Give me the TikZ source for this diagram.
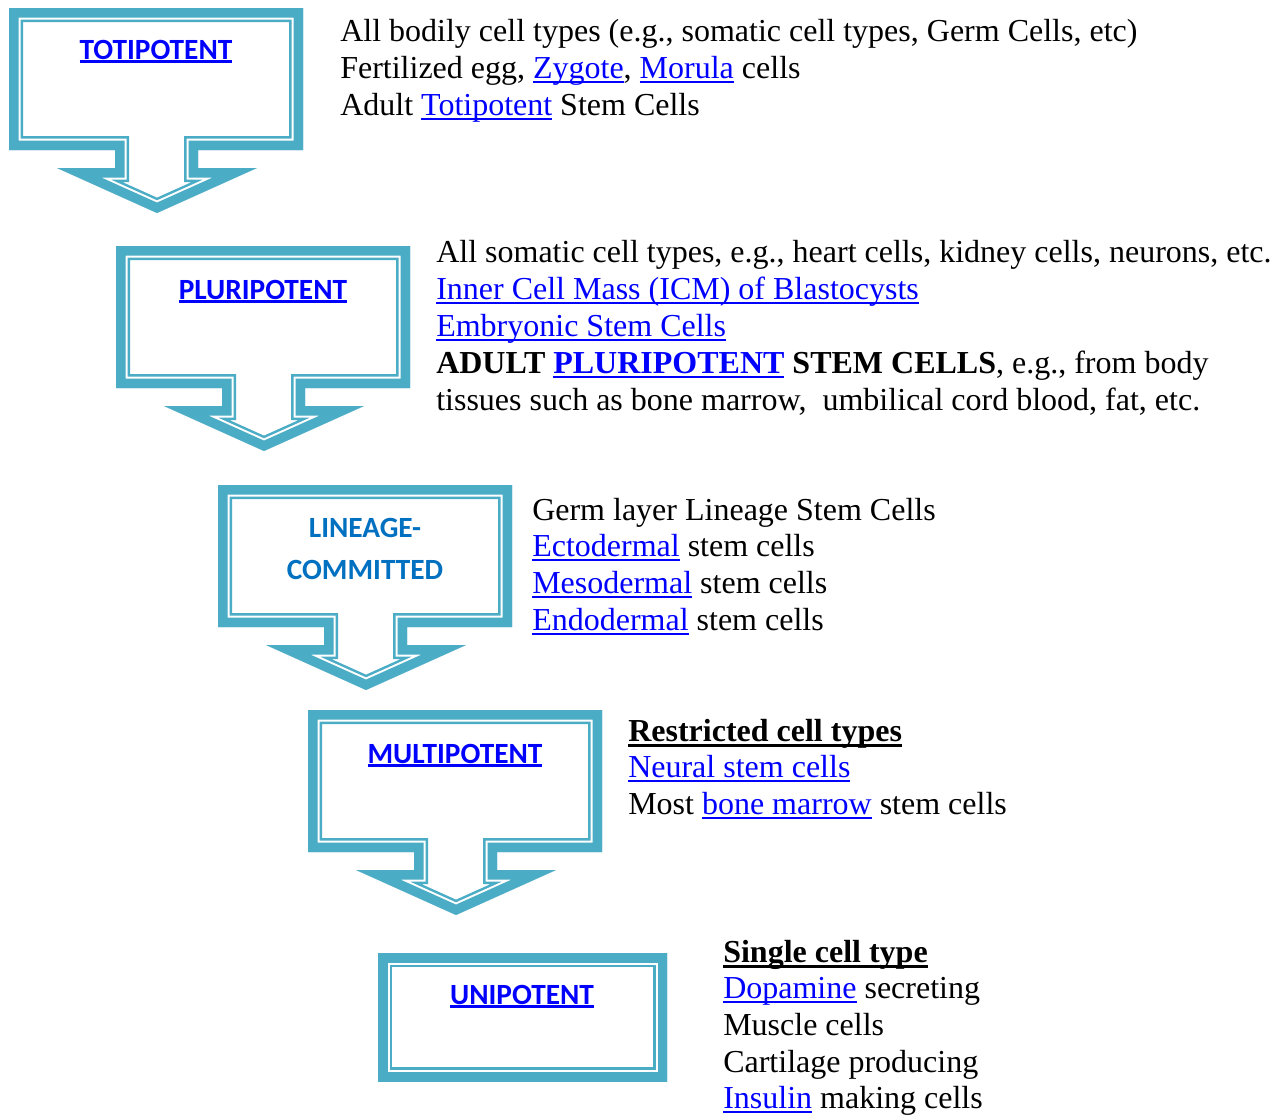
\documentclass[tikz,border=0pt]{standalone}
\usepackage{fontspec}
\setmainfont{Liberation Serif}
\newfontfamily\calfont{Carlito}
\definecolor{stemTeal}{HTML}{4BACC6}
\definecolor{linkBlue}{HTML}{0000FF}
\definecolor{lineBlue}{HTML}{0070C0}
\usepackage{tikz}
\usetikzlibrary{positioning}
\newsavebox{\ulbox}
% underline: #1 depth below baseline, #2 thickness, #3 text
\newcommand{\ulin}[3]{\sbox{\ulbox}{#3}\rlap{\rule[-#1]{\wd\ulbox}{#2}}\usebox{\ulbox}}
\newcommand{\lnk}[1]{\textcolor{linkBlue}{\ulin{0.17em}{0.065em}{#1}}}
\newcommand{\hdr}[1]{\ulin{0.18em}{0.1em}{\textbf{#1}}}
\newcommand{\potency}[1]{\ulin{0.15em}{0.1em}{#1}}

\begin{document}
\begin{tikzpicture}[
  x=0.75pt, y=-0.75pt,
  txt/.style={anchor=base west, inner sep=0pt, font=\fontsize{24}{28}\selectfont},
  lbl/.style={anchor=base, inner sep=0pt, text=linkBlue,
    font=\calfont\bfseries\fontsize{22}{26}\selectfont},
  callshape/.style={insert path={(0,0) -- (294,0) -- (294,142) -- (189,142)
    -- (189,160) -- (248,160) -- (148,205) -- (48,160) -- (106,160)
    -- (106,142) -- (0,142) -- cycle}},
  boxshape/.style={insert path={(0,0) rectangle (289,128)}},
  bandA/.style={draw=stemTeal, line width=21pt, miter limit=20},
  bandB/.style={draw=white, line width=17.25pt, miter limit=20},
  bandC/.style={draw=stemTeal, line width=14.25pt, miter limit=20}]
  \useasboundingbox[fill=white] (0,0) rectangle (1277,1114);
  % Callout arrows
  \foreach \cx/\cy in {9/8, 116/246, 218/485, 308/710} {
    \begin{scope}[shift={(\cx,\cy)}]
      \clip[callshape];
      \path[callshape, bandA];
      \path[callshape, bandB];
      \path[callshape, bandC];
    \end{scope}
  }
  % Last box, no arrow
  \begin{scope}[shift={(378,953)}]
    \clip[boxshape];
    \path[boxshape, bandA];
    \path[boxshape, bandB];
    \path[boxshape, bandC];
  \end{scope}
  % Box titles
  \node[lbl] (totLbl) at (156,59) {\potency{TOTIPOTENT}};
  \node[lbl] (pluLbl) at (263,299) {\potency{PLURIPOTENT}};
  \node[lbl, text=lineBlue] (linLbl) at (365,537) {LINEAGE-};
  \node[lbl, text=lineBlue] (comLbl) at (365,579) {COMMITTED};
  \node[lbl] (mulLbl) at (455,763) {\potency{MULTIPOTENT}};
  \node[lbl] (uniLbl) at (522,1004) {\potency{UNIPOTENT}};
  % Totipotent text
  \node[txt] (tot1) at (340,41) {All bodily cell types (e.g., somatic cell types, Germ Cells, etc)};
  \node[txt] (tot2) at (340,78) {Fertilized egg, \lnk{Zygote}, \lnk{Morula} cells};
  \node[txt] (tot3) at (340,115) {Adult \lnk{Totipotent} Stem Cells};
  % Pluripotent text
  \node[txt] (plu1) at (436,262) {All somatic cell types, e.g., heart cells, kidney cells, neurons, etc.};
  \node[txt] (plu2) at (436,299) {\lnk{Inner Cell Mass (ICM) of Blastocysts}};
  \node[txt] (plu3) at (436,336) {\lnk{Embryonic Stem Cells}};
  \node[txt] (plu4) at (436,373) {\textbf{ADULT \lnk{PLURIPOTENT} STEM CELLS}, e.g., from body};
  \node[txt] (plu5) at (436,410) {tissues such as bone marrow,\ \ umbilical cord blood, fat, etc.};
  % Lineage text
  \node[txt] (lin1) at (532,520) {Germ layer Lineage Stem Cells};
  \node[txt] (lin2) at (532,556) {\lnk{Ectodermal} stem cells};
  \node[txt] (lin3) at (532,593) {\lnk{Mesodermal} stem cells};
  \node[txt] (lin4) at (532,630) {\lnk{Endodermal} stem cells};
  % Multipotent text
  \node[txt] (mul1) at (628,741) {\hdr{Restricted cell types}};
  \node[txt] (mul2) at (628,777) {\lnk{Neural stem cells}};
  \node[txt] (mul3) at (628,814) {Most \lnk{bone marrow} stem cells};
  % Unipotent text
  \node[txt] (uni1) at (723,962) {\hdr{Single cell type}};
  \node[txt] (uni2) at (723,998) {\lnk{Dopamine} secreting};
  \node[txt] (uni3) at (723,1035) {Muscle cells};
  \node[txt] (uni4) at (723,1072) {Cartilage producing};
  \node[txt] (uni5) at (723,1108) {\lnk{Insulin} making cells};
\end{tikzpicture}
\end{document}
